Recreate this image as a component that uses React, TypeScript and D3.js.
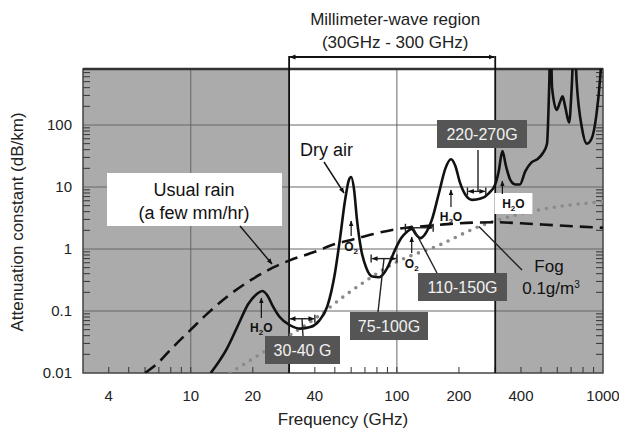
import { useEffect, useRef } from "react";
import * as d3 from "d3";

const freqTicks = [4, 10, 20, 40, 100, 200, 400, 1000];
const attTicks = [0.01, 0.1, 1, 10, 100];

// dry air + water vapour (GHz, dB/km)
const dryAirH2O: [number, number][] = [
  [12.5, 0.01], [15, 0.025], [17, 0.06], [19, 0.13], [21, 0.19], [22.2, 0.21],
  [23.5, 0.18], [25, 0.12], [27, 0.08], [30, 0.06], [34, 0.052], [38, 0.055],
  [42, 0.07], [46, 0.12], [50, 0.4], [53, 1.5], [56, 6], [58.5, 13], [60, 14.5],
  [62, 9], [64, 3], [67, 1], [71, 0.5], [76, 0.36], [82, 0.35], [90, 0.5],
  [97, 0.9], [105, 1.5], [112, 1.9], [118, 2.1], [124, 1.7], [130, 1.5],
  [138, 1.8], [148, 3], [160, 8], [172, 20], [183, 28], [192, 22], [202, 12],
  [215, 7.5], [232, 6.2], [255, 6.5], [280, 8], [300, 11], [312, 18], [325, 38],
  [338, 22], [355, 13], [375, 11], [395, 11], [420, 18], [450, 25], [480, 28],
  [510, 35], [535, 50], [548, 400], [557, 3000], [566, 400], [596, 175],
  [620, 240], [637, 290], [655, 200], [685, 110], [705, 400], [725, 3000],
  [745, 500], [790, 90], [834, 50], [880, 60], [930, 150], [970, 600], [1000, 3000],
];

const usualRain: [number, number][] = [
  [6, 0.01], [7, 0.015], [8, 0.024], [10, 0.05], [12, 0.09], [15, 0.17],
  [20, 0.33], [25, 0.5], [30, 0.65], [40, 0.9], [50, 1.2], [60, 1.4],
  [80, 1.8], [100, 2.1], [150, 2.4], [200, 2.6], [300, 2.7], [400, 2.6],
  [600, 2.4], [1000, 2.2],
];

const fog: [number, number][] = [
  [15.5, 0.01], [20, 0.017], [25, 0.027], [30, 0.04], [40, 0.075], [55, 0.17],
  [70, 0.3], [100, 0.62], [160, 1.15], [250, 2.3], [400, 3.7], [600, 4.8],
  [1000, 5.8],
];

const bandNames = ["30-40 G", "75-100G", "110-150G", "220-270G"];
const bandFreqs = [[30, 40], [75, 100], [110, 150], [220, 270]];
const bandLevels = [0.075, 0.7, 2.2, 8.5];

const lineNames = ["H2O", "O2", "O2", "H2O", "H2O"];
const lineFreqs = [22, 60, 118, 183, 325];

export default function App() {
  const ref = useRef<SVGSVGElement>(null);

  useEffect(() => {
    if (!ref.current) return;
    const svg = d3.select(ref.current);
    svg.selectAll("*").remove();

    const left = 83, right = 603, top = 69, bottom = 373;
    const x = d3.scaleLog().domain([3, 1000]).range([left, right]);
    const y = d3.scaleLog().domain([0.01, 1000]).range([373, 63]);
    const font = "'Liberation Sans', Arial, sans-serif";

    const defs = svg.append("defs");
    defs.append("clipPath").attr("id", "plot")
      .append("rect").attr("x", left).attr("y", top)
      .attr("width", right - left).attr("height", bottom - top);
    defs.append("marker").attr("id", "ah").attr("viewBox", "0 0 10 10")
      .attr("refX", 9).attr("refY", 5).attr("markerWidth", 6).attr("markerHeight", 6)
      .attr("markerUnits", "userSpaceOnUse").attr("orient", "auto-start-reverse")
      .append("path").attr("d", "M0,1L10,5L0,9Z").attr("fill", "#111");

    // shaded regions outside 30-300 GHz
    svg.append("rect").attr("x", left).attr("y", top)
      .attr("width", x(30) - left).attr("height", bottom - top).attr("fill", "#ababab");
    svg.append("rect").attr("x", x(300)).attr("y", top)
      .attr("width", right - x(300)).attr("height", bottom - top).attr("fill", "#ababab");

    // grid
    [0.1, 1, 10, 100].forEach((v) => {
      svg.append("line").attr("x1", left).attr("x2", right)
        .attr("y1", y(v)).attr("y2", y(v)).attr("stroke", "#666").attr("stroke-width", 1);
    });
    [10, 100].forEach((f) => {
      svg.append("line").attr("x1", x(f)).attr("x2", x(f))
        .attr("y1", top).attr("y2", bottom).attr("stroke", "#666").attr("stroke-width", 1);
    });

    // minor ticks
    const ticks = svg.append("g").attr("stroke", "#333").attr("stroke-width", 1);
    [0.01, 0.1, 1, 10, 100].forEach((d) => {
      for (let m = 2; m <= 9; m++) {
        const v = d * m;
        if (y(v) < top) continue;
        ticks.append("line").attr("x1", left).attr("x2", left + 7).attr("y1", y(v)).attr("y2", y(v));
        ticks.append("line").attr("x1", right - 7).attr("x2", right).attr("y1", y(v)).attr("y2", y(v));
      }
    });
    [1, 10, 100].forEach((d) => {
      for (let m = 1; m <= 9; m++) {
        const f = d * m;
        if (f <= 3 || f > 1000) continue;
        ticks.append("line").attr("x1", x(f)).attr("x2", x(f)).attr("y1", bottom).attr("y2", bottom - 6);
      }
    });

    // frame
    svg.append("rect").attr("x", left).attr("y", top)
      .attr("width", right - left).attr("height", bottom - top)
      .attr("fill", "none").attr("stroke", "#444").attr("stroke-width", 1.5);
    svg.append("line").attr("x1", left).attr("x2", right).attr("y1", top).attr("y2", top)
      .attr("stroke", "#333").attr("stroke-width", 2.5);

    // millimetre-wave boundaries
    [30, 300].forEach((f) => {
      svg.append("line").attr("x1", x(f)).attr("x2", x(f)).attr("y1", 56).attr("y2", bottom)
        .attr("stroke", "#111").attr("stroke-width", 1.8);
    });
    svg.append("line").attr("x1", x(30) + 1).attr("x2", x(300) - 1).attr("y1", 57).attr("y2", 57)
      .attr("stroke", "#111").attr("stroke-width", 1.8)
      .attr("marker-start", "url(#ah)").attr("marker-end", "url(#ah)");
    const mid = (x(30) + x(300)) / 2 + 3;
    svg.append("text").attr("x", mid).attr("y", 25).attr("text-anchor", "middle")
      .attr("font-family", font).attr("font-size", 17).attr("fill", "#222").text("Millimeter-wave region");
    svg.append("text").attr("x", mid).attr("y", 48).attr("text-anchor", "middle")
      .attr("font-family", font).attr("font-size", 17).attr("fill", "#222").text("(30GHz - 300 GHz)");

    // curves
    const line = d3.line<[number, number]>()
      .x((d) => x(d[0])).y((d) => y(d[1])).curve(d3.curveMonotoneX);
    const plot = svg.append("g").attr("clip-path", "url(#plot)");
    plot.append("path").attr("d", line(fog)).attr("fill", "none")
      .attr("stroke", "#8a8a8a").attr("stroke-width", 3.6)
      .attr("stroke-dasharray", "0,8").attr("stroke-linecap", "round");
    plot.append("path").attr("d", line(usualRain)).attr("fill", "none")
      .attr("stroke", "#111").attr("stroke-width", 2.6).attr("stroke-dasharray", "13,7");
    plot.append("path").attr("d", line(dryAirH2O)).attr("fill", "none")
      .attr("stroke", "#111").attr("stroke-width", 2.6).attr("stroke-linejoin", "round");

    // absorption line labels
    const lineLayout = [
      { tip: 298, base: 318, ty: 332 },
      { tip: 221, base: 236, ty: 251 },
      { tip: 237, base: 253, ty: 268 },
      { tip: 190, base: 207, ty: 221 },
      { tip: 181, base: 194, ty: 208 },
    ];
    lineNames.forEach((name, i) => {
      const fx = x(lineFreqs[i]);
      const L = lineLayout[i];
      if (i === 4) {
        svg.append("rect").attr("x", fx - 8).attr("y", 193).attr("width", 38).attr("height", 21).attr("fill", "#fff");
      }
      svg.append("line").attr("x1", fx).attr("x2", fx).attr("y1", L.base).attr("y2", L.tip)
        .attr("stroke", "#111").attr("stroke-width", 1.2).attr("marker-end", "url(#ah)");
      const t = svg.append("text").attr("x", fx + (i === 4 ? 11 : 0)).attr("y", L.ty)
        .attr("text-anchor", "middle").attr("font-family", font).attr("font-size", 12)
        .attr("font-weight", "bold").attr("fill", "#111");
      t.append("tspan").text(name[0]);
      t.append("tspan").attr("font-size", 8).attr("dy", 3).text(name[1]);
      if (name.length > 2) t.append("tspan").attr("dy", -3).text(name[2]);
    });

    // band brackets and labels
    const boxes = [
      { x: 265, y: 336, w: 75, lx: 303, ly: 336 },
      { x: 350, y: 312, w: 78, lx: 378, ly: 312 },
      { x: 418, y: 273, w: 89, lx: 437, ly: 273 },
      { x: 437, y: 120, w: 90, lx: 478, ly: 150 },
    ];
    bandNames.forEach((name, i) => {
      const [f0, f1] = bandFreqs[i];
      const by = y(bandLevels[i]);
      const b = boxes[i];
      svg.append("line").attr("x1", x(f0) + 1).attr("x2", x(f1) - 1).attr("y1", by).attr("y2", by)
        .attr("stroke", "#222").attr("stroke-width", 1.4)
        .attr("marker-start", "url(#ah)").attr("marker-end", "url(#ah)");
      [f0, f1].forEach((f) => {
        svg.append("line").attr("x1", x(f)).attr("x2", x(f)).attr("y1", by - 4).attr("y2", by + 4)
          .attr("stroke", "#222").attr("stroke-width", 1.4);
      });
      const cx = i === 2 ? x(120) : i === 3 ? b.lx : (x(f0) + x(f1)) / 2;
      svg.append("line").attr("x1", cx).attr("y1", by).attr("x2", b.lx).attr("y2", b.ly)
        .attr("stroke", "#222").attr("stroke-width", 1.4);
      svg.append("rect").attr("x", b.x).attr("y", b.y).attr("width", b.w).attr("height", 28)
        .attr("fill", "#555");
      svg.append("text").attr("x", b.x + b.w / 2).attr("y", b.y + 20).attr("text-anchor", "middle")
        .attr("font-family", font).attr("font-size", 16).attr("fill", "#f2f2f2").text(name);
    });

    // dry air label
    svg.append("text").attr("x", 300).attr("y", 156).attr("font-family", font)
      .attr("font-size", 18).attr("fill", "#111").text("Dry air");
    svg.append("line").attr("x1", 324).attr("y1", 162).attr("x2", 344).attr("y2", 193)
      .attr("stroke", "#111").attr("stroke-width", 1.4).attr("marker-end", "url(#ah)");

    // usual rain label
    svg.append("rect").attr("x", 107).attr("y", 173).attr("width", 175).attr("height", 53).attr("fill", "#fff");
    svg.append("text").attr("x", 194).attr("y", 196).attr("text-anchor", "middle")
      .attr("font-family", font).attr("font-size", 18).attr("fill", "#111").text("Usual rain");
    svg.append("text").attr("x", 194).attr("y", 219).attr("text-anchor", "middle")
      .attr("font-family", font).attr("font-size", 18).attr("fill", "#111").text("(a few mm/hr)");
    svg.append("line").attr("x1", 240).attr("y1", 226).attr("x2", 272).attr("y2", 264)
      .attr("stroke", "#111").attr("stroke-width", 1.4).attr("marker-end", "url(#ah)");

    // fog label
    svg.append("line").attr("x1", x(250)).attr("y1", y(2.3)).attr("x2", 522).attr("y2", 270)
      .attr("stroke", "#222").attr("stroke-width", 1.4);
    svg.append("text").attr("x", 549).attr("y", 272).attr("text-anchor", "middle")
      .attr("font-family", font).attr("font-size", 17).attr("fill", "#111").text("Fog");
    const fogT = svg.append("text").attr("x", 551).attr("y", 294).attr("text-anchor", "middle")
      .attr("font-family", font).attr("font-size", 17).attr("fill", "#111");
    fogT.append("tspan").text("0.1g/m");
    fogT.append("tspan").attr("font-size", 10).attr("dy", -6).text("3");

    // axis labels
    freqTicks.forEach((f) => {
      svg.append("text").attr("x", x(f)).attr("y", 401).attr("text-anchor", "middle")
        .attr("font-family", font).attr("font-size", 15).attr("fill", "#222").text(String(f));
    });
    attTicks.forEach((v) => {
      svg.append("text").attr("x", 72).attr("y", y(v) + 5).attr("text-anchor", "end")
        .attr("font-family", font).attr("font-size", 15).attr("fill", "#222").text(String(v));
    });
    svg.append("text").attr("x", (left + right) / 2).attr("y", 425).attr("text-anchor", "middle")
      .attr("font-family", font).attr("font-size", 17).attr("fill", "#222").text("Frequency (GHz)");
    svg.append("text").attr("transform", "translate(23,222) rotate(-90)").attr("text-anchor", "middle")
      .attr("font-family", font).attr("font-size", 17).attr("fill", "#222")
      .text("Attenuation constant (dB/km)");
  }, []);

  return (
    <svg ref={ref} width={619} height={432}
      style={{ position: "absolute", left: 0, top: 0, background: "#fff" }} />
  );
}
